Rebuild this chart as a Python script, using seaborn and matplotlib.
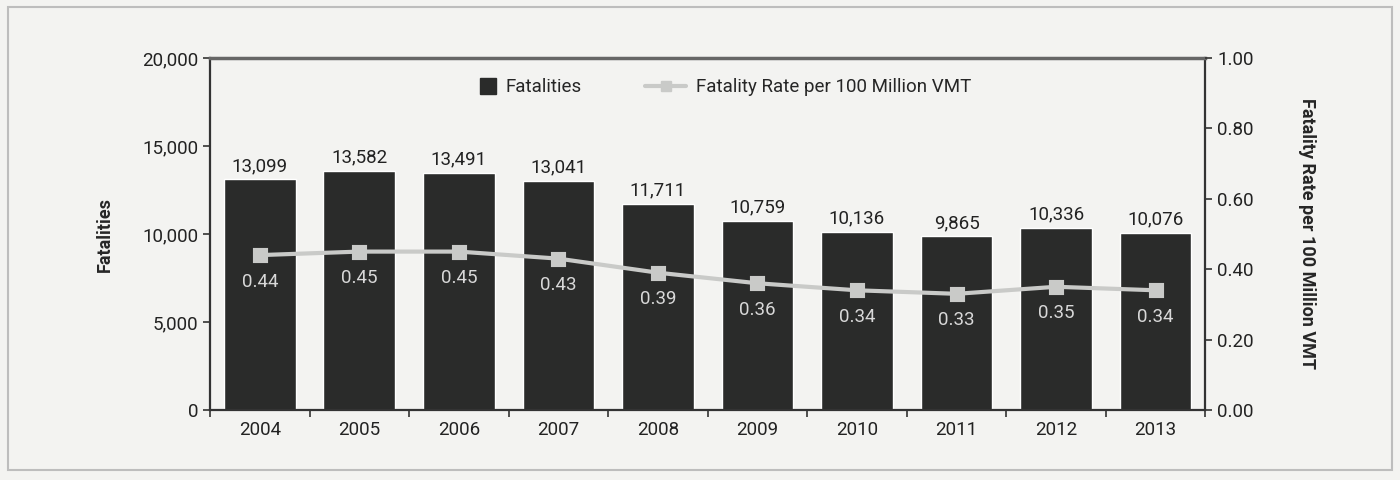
import numpy as np
import pandas as pd
import matplotlib.pyplot as plt
import matplotlib.patches as mpatches
from matplotlib.lines import Line2D
import seaborn as sns

years = ["2004", "2005", "2006", "2007", "2008", "2009", "2010", "2011", "2012", "2013"]
fatalities = [13099, 13582, 13491, 13041, 11711, 10759, 10136, 9865, 10336, 10076]
rates = [0.44, 0.45, 0.45, 0.43, 0.39, 0.36, 0.34, 0.33, 0.35, 0.34]

BG = "#f3f3f1"
BAR = "#2a2b2a"
LINE = "#c9cac8"

sns.set_style("white")
plt.rcParams["font.family"] = ["Liberation Sans Narrow", "Roboto", "DejaVu Sans"]

df = pd.DataFrame({"year": years, "fatalities": fatalities, "rate": rates})

fig = plt.figure(figsize=(14, 4.8), dpi=100, facecolor=BG)
ax = fig.add_axes([0.150, 0.146, 0.711, 0.733])
ax.set_facecolor(BG)

# outer frame
fig.patches.append(mpatches.Rectangle((0.006, 0.02), 0.988, 0.965, transform=fig.transFigure,
                                      fill=False, edgecolor="#bdbdbd", linewidth=1.5))

sns.barplot(data=df, x="year", y="fatalities", color=BAR, width=0.72,
            saturation=1, ax=ax, zorder=2)
ax.set_ylim(0, 20000)
ax.set_xlim(-0.5, 9.5)
ax.set_yticks([0, 5000, 10000, 15000, 20000])
ax.set_yticklabels([f"{v:,}" for v in [0, 5000, 10000, 15000, 20000]])
ax.set_xlabel("")
ax.set_ylabel("Fatalities", fontsize=13, fontweight="bold", labelpad=20)

# bar labels
for i, v in enumerate(fatalities):
    ax.text(i, v + 250, f"{v:,}", ha="center", va="bottom", fontsize=13.5, color="#222222")

# x ticks between categories
ax.set_xticks(np.arange(-0.5, 10, 1), minor=True)
ax.tick_params(axis="x", which="major", length=0, labelsize=13.5, pad=8, bottom=False)
ax.tick_params(axis="x", which="minor", length=5, width=1.2, direction="out",
               color="#333333", bottom=True)
ax.tick_params(axis="y", length=5, width=1.2, direction="out", labelsize=13.5,
               color="#333333", labelcolor="#222222", left=True)
ax.tick_params(axis="x", labelcolor="#222222")

for s in ax.spines.values():
    s.set_color("#333333")
    s.set_linewidth(1.6)
ax.spines["top"].set_color("#666666")
ax.spines["top"].set_linewidth(2.5)

ax2 = ax.twinx()
sns.pointplot(data=df, x="year", y="rate", color=LINE, markers="s", markersize=9,
              linewidth=3, ax=ax2, zorder=3)
ax2.set_ylim(0, 1.0)
ax2.set_xlim(-0.5, 9.5)
ax2.set_yticks([0, 0.2, 0.4, 0.6, 0.8, 1.0])
ax2.set_yticklabels([f"{v:.2f}" for v in [0, 0.2, 0.4, 0.6, 0.8, 1.0]])
ax2.tick_params(axis="y", length=5, width=1.2, direction="out", labelsize=13.5,
                color="#333333", labelcolor="#222222", right=True)
ax2.set_ylabel("Fatality Rate per 100 Million VMT", fontsize=13, fontweight="bold",
               rotation=270, labelpad=45)
ax2.set_xlabel("")
for s in ax2.spines.values():
    s.set_visible(False)

for i, r in enumerate(rates):
    ax2.text(i, r - 0.05, f"{r:.2f}", ha="center", va="top", fontsize=13.5, color="#d8d8d8")

# legend: two pieces so the square handle sits close to its text
bar_handle = [Line2D([0], [0], color="none", marker="s", markersize=12, markerfacecolor=BAR,
                     markeredgecolor=BAR, label="Fatalities")]
line_handle = [Line2D([0], [0], color=LINE, linewidth=3, marker="s", markersize=7,
                      label="Fatality Rate per 100 Million VMT")]
leg1 = ax.legend(handles=bar_handle, loc="upper left", bbox_to_anchor=(0.255, 0.99),
                 frameon=False, fontsize=13.5, handlelength=0.8, handletextpad=0.5)
ax.add_artist(leg1)
ax.legend(handles=line_handle, loc="upper left", bbox_to_anchor=(0.42, 0.99),
          frameon=False, fontsize=13.5, handlelength=2.2, handletextpad=0.5)

fig.savefig("out.png", dpi=100, facecolor=BG)
